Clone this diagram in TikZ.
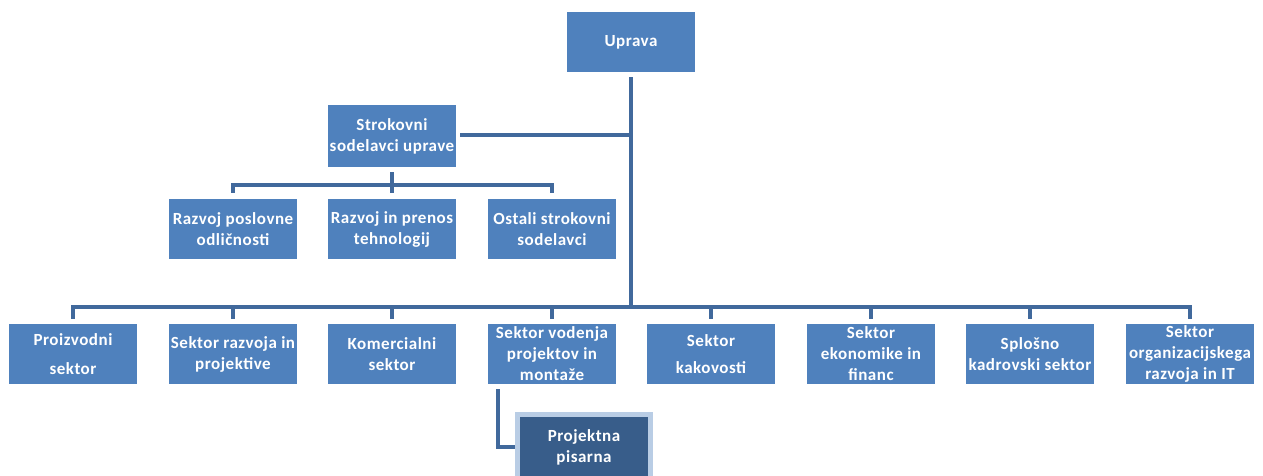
\documentclass[tikz,border=0pt]{standalone}
\usepackage{fontspec}
\setmainfont{Carlito}
\usetikzlibrary{calc}
\definecolor{boxblue}{HTML}{4F81BD}
\definecolor{linkblue}{HTML}{41699C}
\definecolor{deepblue}{HTML}{385D8A}
\definecolor{paleblue}{HTML}{B9CDE5}
\begin{document}
\begin{tikzpicture}[x=1pt,y=-1pt,
  unit/.style={fill=boxblue, minimum width=128pt, minimum height=60pt,
    inner sep=0pt, outer sep=0pt, text=white, align=center,
    font=\bfseries\fontsize{17}{21}\selectfont\addfontfeature{LetterSpace=3}},
  link/.style={draw=linkblue, line width=4pt}]
\useasboundingbox (0,0) rectangle (1263,475);

% management and staff
\node[unit] (uprava) at (631,42) {Uprava};
\node[unit, minimum height=62pt] (strok) at (392,136) {Strokovni\\sodelavci uprave};
\node[unit] (odl) at (233,229) {Razvoj poslovne\\odličnosti};
\node[unit] (prenos) at (392,229) {Razvoj in prenos\\tehnologij};
\node[unit] (ostali) at (552,229) {Ostali strokovni\\sodelavci};

% sectors
\node[unit] (proiz) at (73,354) {Proizvodni\\[8pt]sektor};
\node[unit] (razvoj) at (233,354) {Sektor razvoja in\\projektive};
\node[unit] (komer) at (392,354) {Komercialni\\sektor};
\node[unit] (vodenje) at (552,354) {Sektor vodenja\\projektov in\\montaže};
\node[unit] (kakov) at (711,354) {Sektor\\[6pt]kakovosti};
\node[unit] (ekon) at (871,354) {Sektor\\ekonomike in\\financ};
\node[unit] (splos) at (1030,354) {Splošno\\kadrovski sektor};
\node[unit] (organ) at (1190,354) {Sektor\\organizacijskega\\razvoja in IT};

% project office
\node[unit, fill=deepblue, draw=paleblue, line width=5pt,
  minimum width=133pt, minimum height=65pt] (pisarna) at (584,447) {Projektna\\pisarna};

% connectors
\coordinate (hub) at (631,307);
\coordinate (subhub) at (392,185);
\draw[link] ($(uprava.south)+(0,5)$) -- (hub);
\draw[link] ($(strok.east)+(4,-1)$) -- (uprava.south |- 0,135);
\foreach \n in {proiz,razvoj,komer,vodenje,kakov,ekon,splos,organ}
  \draw[link] (hub) -| ($(\n.north)+(0,-5)$);
\draw[link] ($(strok.south)+(0,5)$) -- (subhub);
\foreach \n in {odl,prenos,ostali}
  \draw[link] (subhub) -| ($(\n.north)+(0,-6)$);
\coordinate (pstart) at ($(vodenje.south west)+(10,5)$);
\draw[link] (pstart) |- ($(pisarna.west)+(-2.5,0)$);
\end{tikzpicture}
\end{document}
